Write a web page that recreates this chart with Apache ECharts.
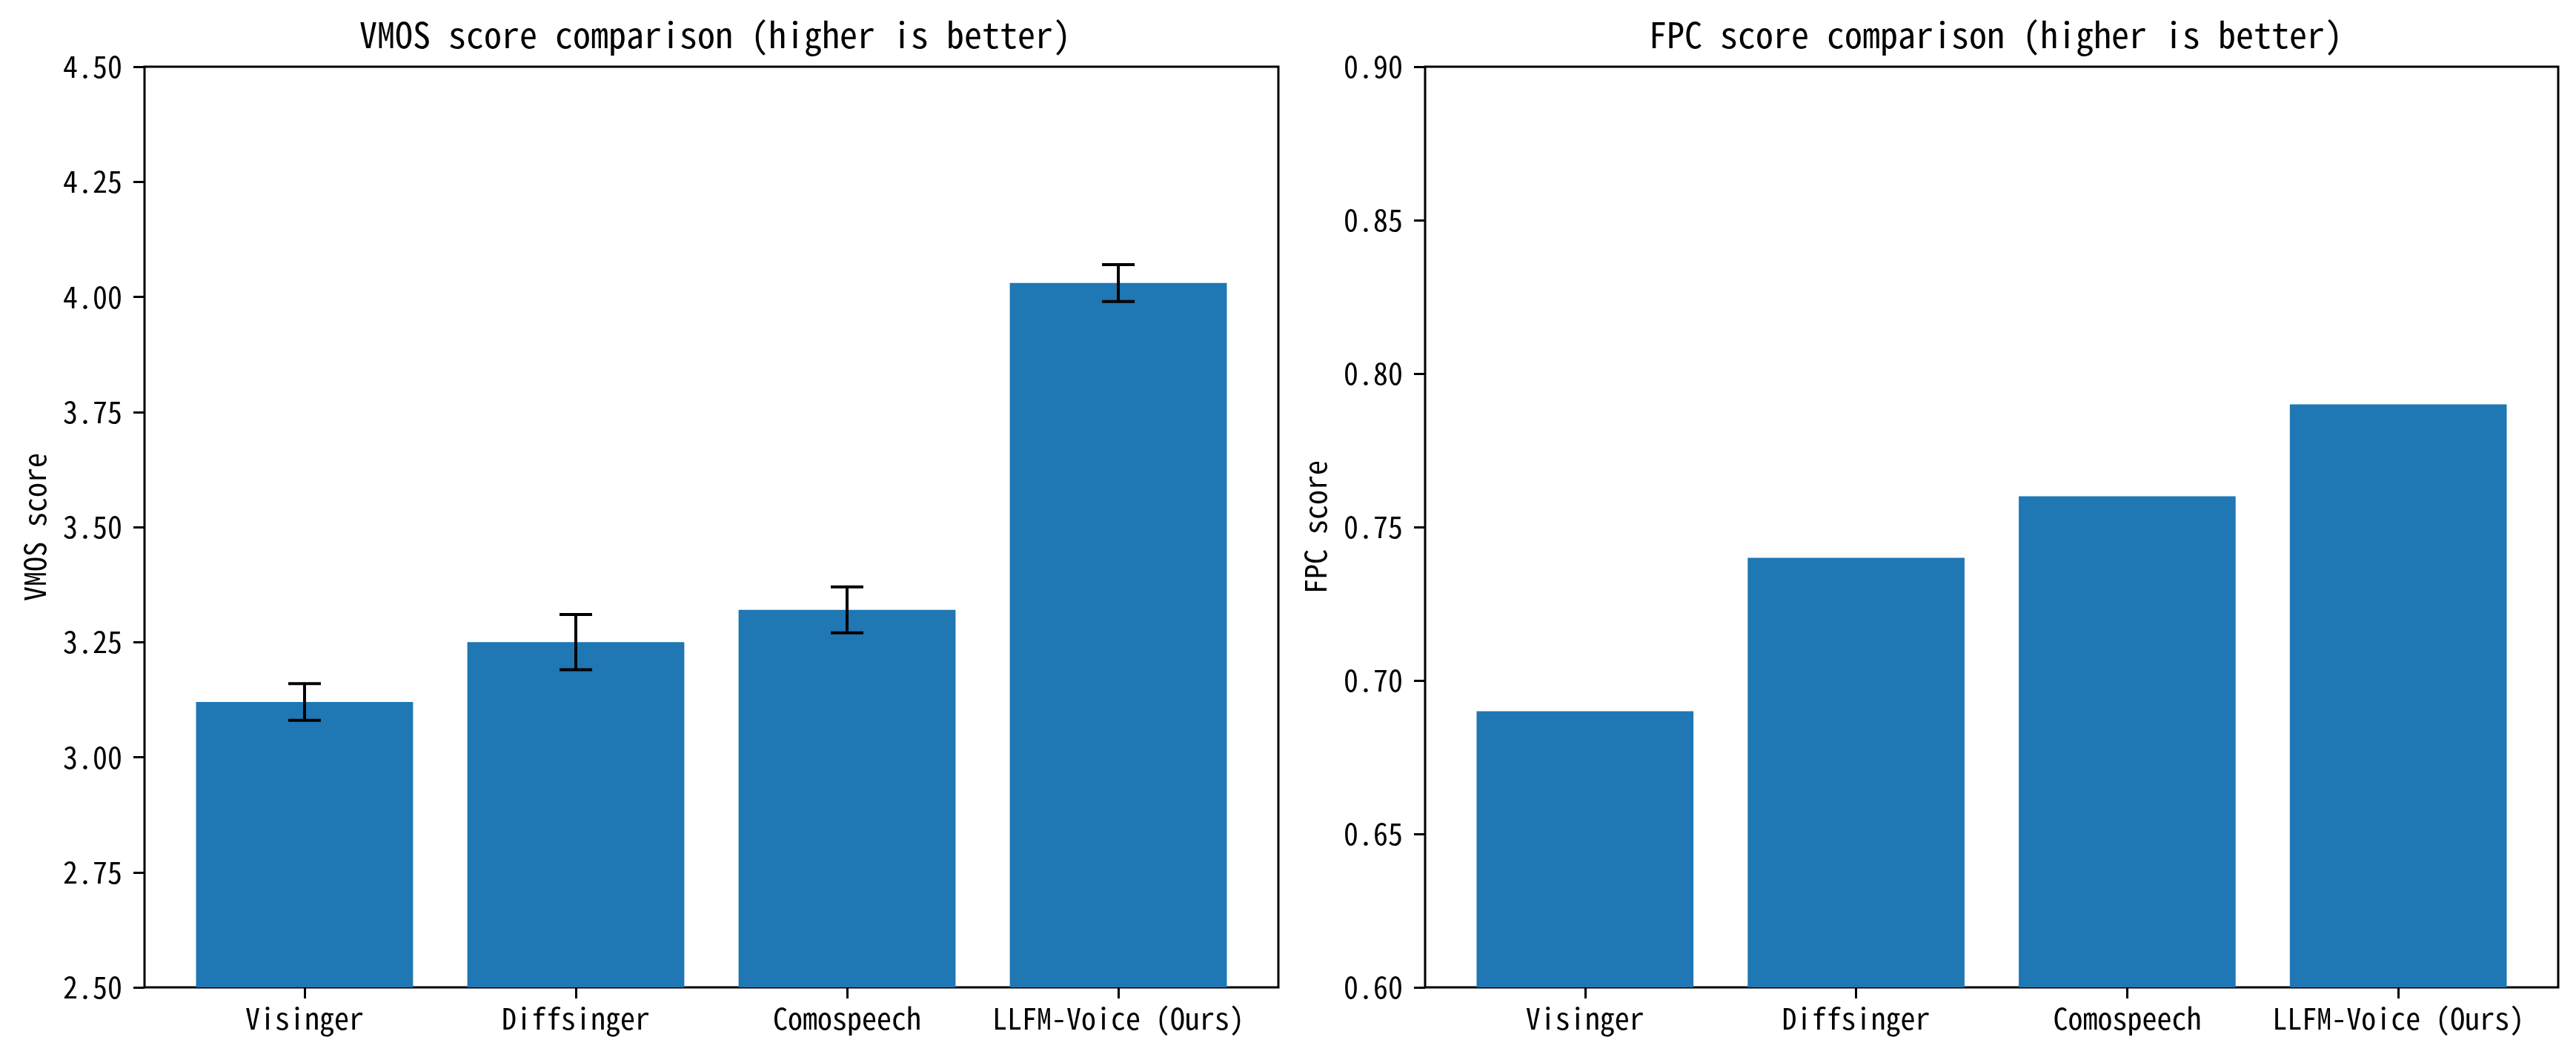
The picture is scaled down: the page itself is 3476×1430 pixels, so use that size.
<!DOCTYPE html>
<html>
<head>
<meta charset="utf-8">
<script src="https://cdn.jsdelivr.net/npm/echarts@6/dist/echarts.min.js"></script>
<style>
html,body{margin:0;padding:0;background:#fff;}
#c{width:3476px;height:1430px;}
</style>
</head>
<body>
<div id="c"></div>
<script>
const categories = ['Visinger', 'Diffsinger', 'Comospeech', 'LLFM-Voice (Ours)'];
const vmosValues = [3.12, 3.25, 3.32, 4.03];
const vmosErrors = [0.04, 0.06, 0.05, 0.04];
const fpcValues = [0.69, 0.74, 0.76, 0.79];
const vmosTicks = [2.5, 2.75, 3.0, 3.25, 3.5, 3.75, 4.0, 4.25, 4.5];
const fpcTicks = [0.6, 0.65, 0.7, 0.75, 0.8, 0.85, 0.9];

const FONT = "'Noto Sans Mono CJK SC', 'DejaVu Sans Mono', monospace";
const BAR_COLOR = '#1f77b4';

function barRender(params, api) {
  const x = api.value(0), y = api.value(1);
  const base = params.context.base;
  const p1 = api.coord([x - 0.4, y]);
  const p2 = api.coord([x + 0.4, base]);
  return {
    type: 'rect',
    shape: {x: p1[0], y: p1[1], width: p2[0] - p1[0], height: p2[1] - p1[1]},
    style: {fill: BAR_COLOR}
  };
}

function errRender(params, api) {
  const x = api.value(0), y = api.value(1), e = api.value(2);
  const top = api.coord([x, y + e]);
  const bot = api.coord([x, y - e]);
  const cap = 22;
  const st = {stroke: '#000', lineWidth: 4};
  return {
    type: 'group',
    children: [
      {type: 'line', shape: {x1: top[0], y1: top[1], x2: bot[0], y2: bot[1]}, style: st},
      {type: 'line', shape: {x1: top[0] - cap, y1: top[1], x2: top[0] + cap, y2: top[1]}, style: st},
      {type: 'line', shape: {x1: bot[0] - cap, y1: bot[1], x2: bot[0] + cap, y2: bot[1]}, style: st}
    ]
  };
}

function xAxisDef(gi) {
  return {
    type: 'value', gridIndex: gi, min: -0.59, max: 3.59, position: 'bottom',
    axisLine: {show: false, onZero: false},
    splitLine: {show: false},
    axisTick: {show: true, customValues: [0, 1, 2, 3], length: 15, lineStyle: {color: '#000', width: 3}},
    axisLabel: {show: true, customValues: [0, 1, 2, 3], margin: 22, color: '#000', fontSize: 40, fontFamily: FONT,
      formatter: v => categories[Math.round(v)]}
  };
}

function yAxisDef(gi, ticks, name) {
  return {
    type: 'value', gridIndex: gi, min: ticks[0], max: ticks[ticks.length - 1], position: 'left',
    interval: ticks[1] - ticks[0],
    name: name, nameLocation: 'middle', nameGap: 128, nameRotate: 90,
    nameTextStyle: {color: '#000', fontSize: 40, fontFamily: FONT},
    axisLine: {show: false, onZero: false},
    splitLine: {show: false},
    axisTick: {show: true, length: 15, lineStyle: {color: '#000', width: 3}},
    axisLabel: {margin: 30, color: '#000', fontSize: 40, fontFamily: FONT, formatter: v => v.toFixed(2)}
  };
}

const chart = echarts.init(document.getElementById('c'), null, {renderer: 'canvas'});
chart.setOption({
  animation: false,
  backgroundColor: '#fff',
  title: [
    {text: 'VMOS score comparison (higher is better)', left: 960, top: 18, textAlign: 'center',
      textStyle: {color: '#000', fontSize: 48, fontWeight: 'normal', fontFamily: FONT}},
    {text: 'FPC score comparison (higher is better)', left: 2688, top: 18, textAlign: 'center',
      textStyle: {color: '#000', fontSize: 48, fontWeight: 'normal', fontFamily: FONT}}
  ],
  grid: [
    {left: 195, top: 90, width: 1530, height: 1242, show: true, borderColor: '#000', borderWidth: 3, backgroundColor: 'transparent'},
    {left: 1923, top: 90, width: 1529, height: 1242, show: true, borderColor: '#000', borderWidth: 3, backgroundColor: 'transparent'}
  ],
  xAxis: [xAxisDef(0), xAxisDef(1)],
  yAxis: [yAxisDef(0, vmosTicks, 'VMOS score'), yAxisDef(1, fpcTicks, 'FPC score')],
  series: [
    {type: 'custom', xAxisIndex: 0, yAxisIndex: 0, data: vmosValues.map((v, i) => [i, v]),
      encode: {x: 0, y: 1},
      renderItem: (p, api) => { p.context.base = vmosTicks[0]; return barRender(p, api); }},
    {type: 'custom', xAxisIndex: 0, yAxisIndex: 0, data: vmosValues.map((v, i) => [i, v, vmosErrors[i]]),
      encode: {x: 0, y: 1}, z: 5,
      renderItem: errRender},
    {type: 'custom', xAxisIndex: 1, yAxisIndex: 1, data: fpcValues.map((v, i) => [i, v]),
      encode: {x: 0, y: 1},
      renderItem: (p, api) => { p.context.base = fpcTicks[0]; return barRender(p, api); }}
  ]
});
</script>
</body>
</html>
